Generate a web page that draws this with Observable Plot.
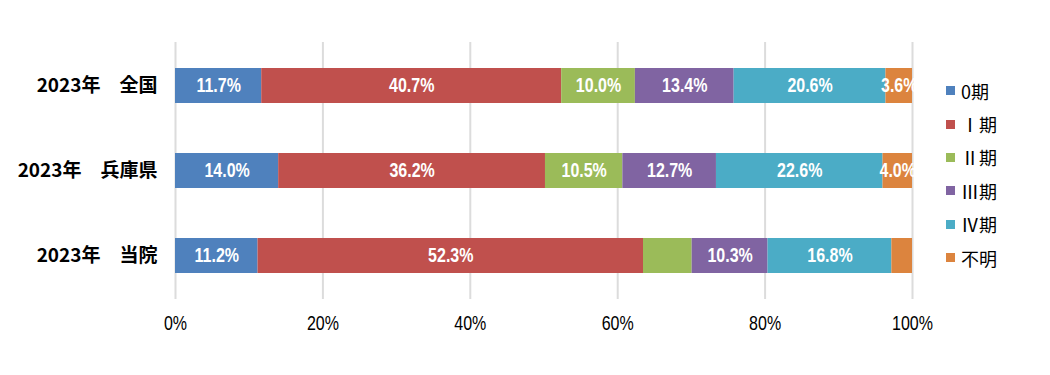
<!DOCTYPE html>
<html><head><meta charset="utf-8">
<script src="https://cdn.jsdelivr.net/npm/d3@7"></script>
<script src="https://cdn.jsdelivr.net/npm/@observablehq/plot@0.6"></script>
<style>
body{margin:0;background:#fff;font-family:"Liberation Sans","Noto Sans CJK JP",sans-serif;}
#wrap{position:relative;width:1050px;height:375px;}
#legend{position:absolute;left:946px;top:74px;font-family:"Noto Sans CJK JP",sans-serif;font-size:18px;color:#000;}
#legend div{height:33.4px;display:flex;align-items:center;}
#legend span.sw{display:inline-block;width:9px;height:9px;margin-right:6px;}
</style></head>
<body><div id="wrap"><div id="chart"></div><div id="legend"></div></div>
<script>
const categories = ["2023年　全国", "2023年　兵庫県", "2023年　当院"];
const stages = ["0期", "Ⅰ期", "Ⅱ期", "Ⅲ期", "Ⅳ期", "不明"];
const legendLabels = ["0期", "Ⅰ期", "Ⅱ期", "Ⅲ期", "Ⅳ期", "不明"];
const colors = ["#4f81bd", "#c0504d", "#9bbb59", "#8064a2", "#4bacc6", "#dc843e"];
const valuesZenkoku = [11.7, 40.7, 10.0, 13.4, 20.6, 3.6];
const valuesHyogo = [14.0, 36.2, 10.5, 12.7, 22.6, 4.0];
const valuesTouin = [11.2, 52.3, 6.6, 10.3, 16.8, 2.8];
const labelsTouin = ["11.2%", "52.3%", "", "10.3%", "16.8%", ""];
const xTicks = [0, 20, 40, 60, 80, 100];

const series = [valuesZenkoku, valuesHyogo, valuesTouin];
const data = [];
categories.forEach((c, i) => {
  series[i].forEach((v, j) => {
    const label = i === 2 ? labelsTouin[j] : v.toFixed(1) + "%";
    data.push({cat: c, stage: stages[j], value: v, label});
  });
});

const chart = Plot.plot({
  width: 1050,
  height: 375,
  marginLeft: 175,
  marginRight: 138,
  marginTop: 42,
  marginBottom: 76,
  style: {fontFamily: '"Liberation Sans","Noto Sans CJK JP",sans-serif', background: "#fff"},
  x: {domain: [0, 100], ticks: xTicks, tickFormat: d => d + "%", label: null},
  y: {domain: categories, paddingInner: 0.591, paddingOuter: 0.296, label: null},
  color: {domain: stages, range: colors},
  marks: [
    Plot.gridX({ticks: xTicks, stroke: "#dcdcdc", strokeOpacity: 1, strokeWidth: 2}),
    Plot.axisX({ticks: xTicks, tickFormat: d => d + "%", tickSize: 0, tickPadding: 16, fontSize: 20, fill: "#000", label: null}),
    Plot.axisY({tickSize: 0, tickPadding: 18, fontSize: 19, fontWeight: "bold", fill: "#000", label: null,
      fontFamily: '"Noto Sans CJK JP",sans-serif'}),
    Plot.barX(data, Plot.stackX({x: "value", y: "cat", fill: "stage", order: null})),
    Plot.text(data, Plot.stackX({x: "value", y: "cat", text: "label", order: null,
      fill: "#fff", fontSize: 20, fontWeight: "bold"}))
  ]
});
document.getElementById("chart").appendChild(chart);

// condensed look for the percentage labels (ticks and bar labels)
d3.select(chart).selectAll("text").each(function() {
  if (!/%$/.test(this.textContent)) return;
  const t = d3.select(this);
  const x = parseFloat(t.attr("x")) || 0, y = parseFloat(t.attr("y")) || 0;
  const tr = t.attr("transform") || "";
  t.attr("transform", `${tr} translate(${x},${y}) scale(0.8,1) translate(${-x},${-y})`);
});

const lg = document.getElementById("legend");
legendLabels.forEach((l, i) => {
  const d = document.createElement("div");
  d.innerHTML = `<span class="sw" style="background:${colors[i]}"></span>${l}`;
  lg.appendChild(d);
});
</script></body></html>
